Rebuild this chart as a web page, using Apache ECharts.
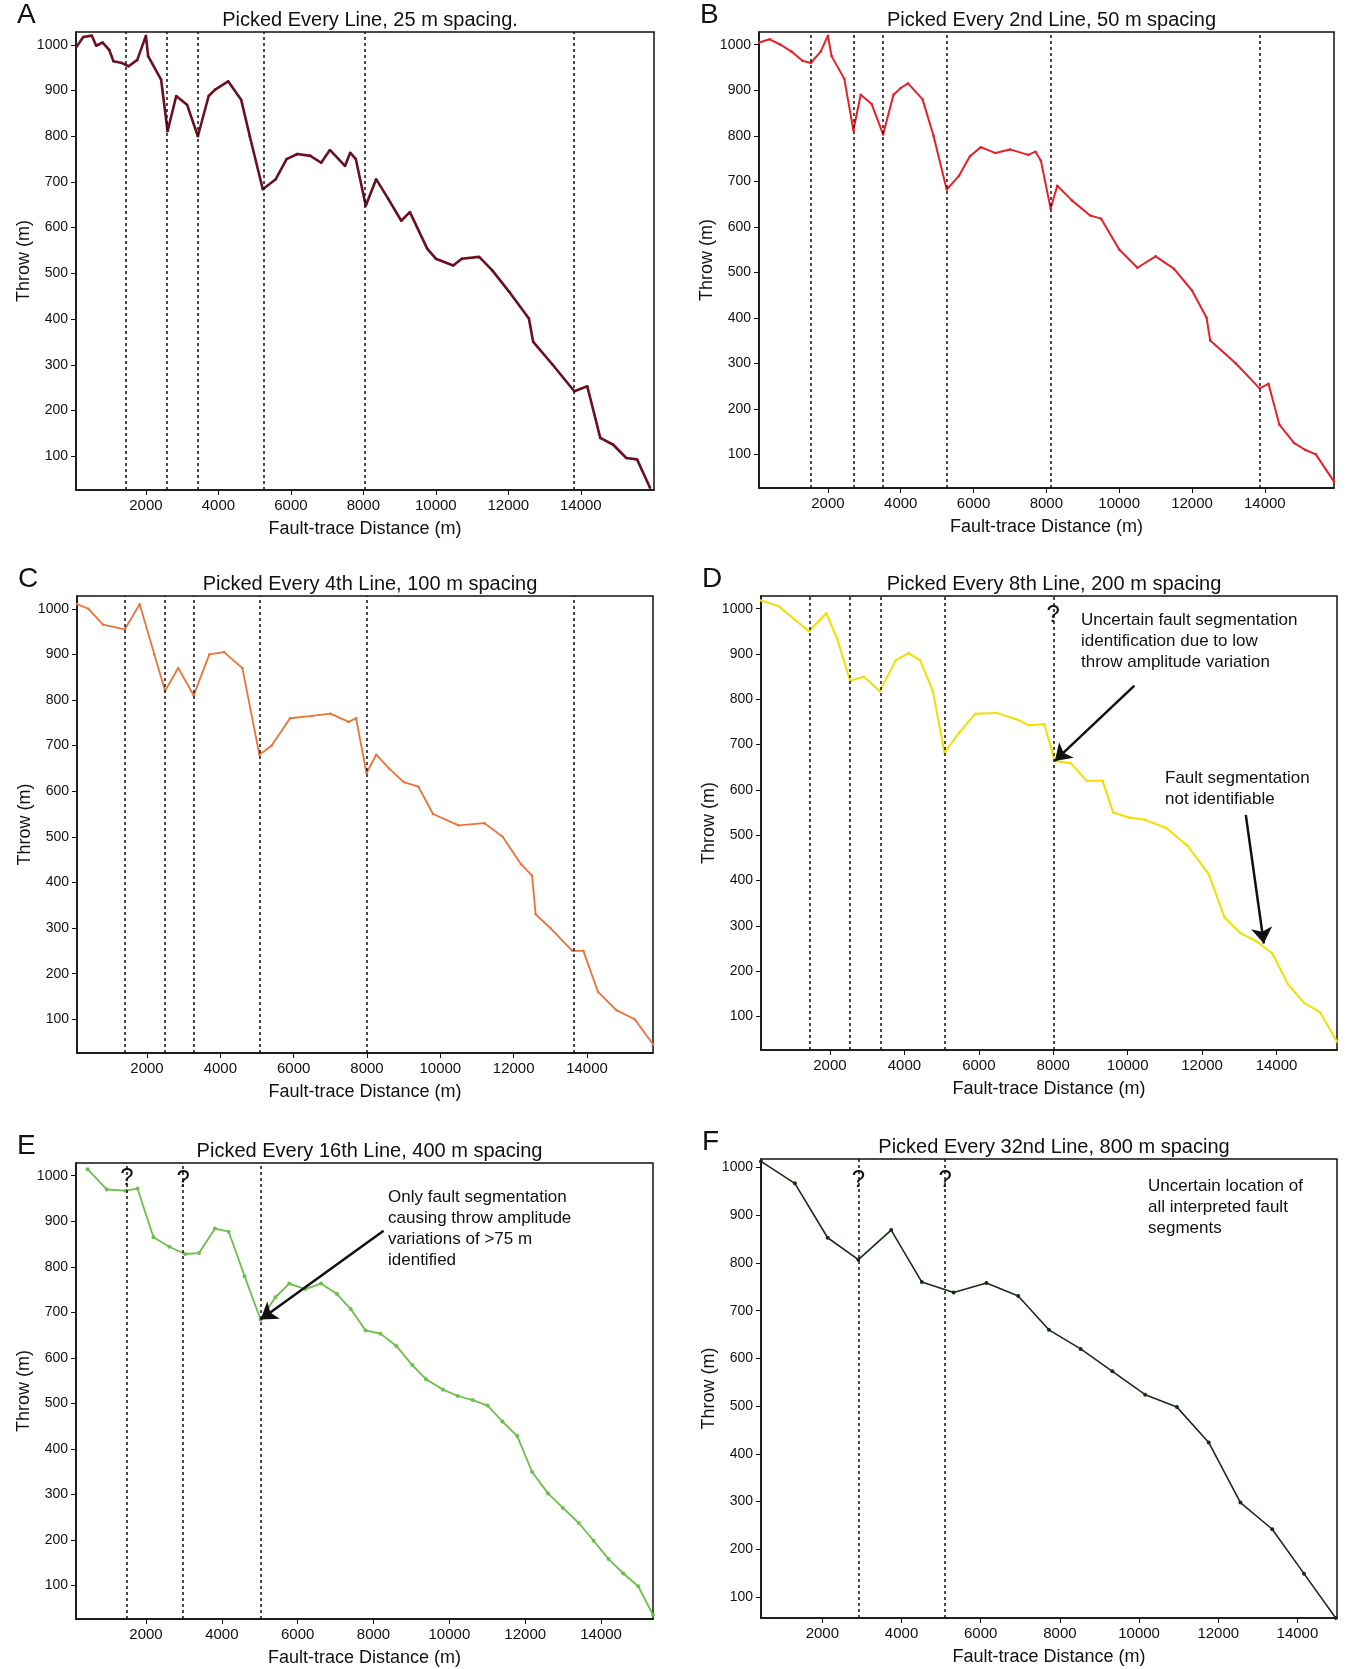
<!DOCTYPE html>
<html><head><meta charset="utf-8">
<script src="https://cdn.jsdelivr.net/npm/echarts@6/dist/echarts.min.js"></script>
<style>html,body{margin:0;background:#fff}#c{width:1351px;height:1669px}</style>
</head><body><div id="c"></div>
<script>
// throw profiles, [distance m, throw m]
const dataA = [[90,996],[270,1017],[508,1020],[627,998],[806,1005],[985,989],[1104,964],[1343,960],[1522,953],[1761,967],[2000,1020],[2060,975],[2418,924],[2597,811],[2836,888],[3134,869],[3433,800],[3731,888],[3910,902],[4269,920],[4627,880],[4866,800],[5224,684],[5582,706],[5881,750],[6179,761],[6537,757],[6836,742],[7075,770],[7493,735],[7636,764],[7791,750],[8066,648],[8352,706],[8687,663],[9045,615],[9284,634],[9761,554],[10000,532],[10478,517],[10716,532],[11194,536],[11552,507],[12030,459],[12567,401],[12687,350],[13224,300],[13821,242],[14179,253],[14537,140],[14896,125],[15254,96],[15552,93],[15910,31]];
const dataB = [[110,1005],[400,1012],[700,1000],[1000,985],[1300,965],[1534,960],[1800,985],[2000,1020],[2100,975],[2450,925],[2700,812],[2900,890],[3200,870],[3515,803],[3800,890],[4000,905],[4200,915],[4600,880],[4900,800],[5262,682],[5600,712],[5900,755],[6200,775],[6600,762],[7000,770],[7500,758],[7700,765],[7850,745],[8117,640],[8300,690],[8700,658],[9200,625],[9500,618],[10000,550],[10500,510],[11000,535],[11500,508],[12000,460],[12400,400],[12500,350],[13200,300],[13856,245],[14100,255],[14400,165],[14800,125],[15100,110],[15400,100],[15900,40]];
const dataC = [[90,1010],[400,1000],[800,965],[1393,955],[1800,1010],[2200,900],[2492,820],[2850,870],[3272,810],[3700,900],[4100,905],[4600,870],[5065,680],[5400,700],[5900,760],[6500,765],[7000,770],[7500,752],[7700,760],[7986,640],[8250,680],[8600,650],[9000,620],[9400,610],[9800,550],[10500,525],[11200,530],[11700,500],[12200,440],[12500,415],[12600,330],[13000,300],[13600,250],[13900,250],[14300,160],[14800,120],[15300,100],[15800,45]];
const dataD = [[147,1018],[632,1005],[1430,950],[1900,990],[2200,932],[2542,841],[2912,850],[3340,818],[3767,886],[4109,902],[4423,886],[4765,818],[5079,682],[5478,727],[5905,768],[6476,770],[7046,755],[7331,743],[7758,745],[8043,664],[8471,659],[8898,620],[9325,620],[9611,550],[10039,539],[10466,534],[11036,516],[11606,477],[12177,414],[12605,318],[13032,284],[13460,266],[13887,239],[14315,170],[14742,130],[15170,109],[15625,45]];
const dataE = [[462,1014],[965,970],[1469,967],[1776,972],[2196,865],[2615,844],[3035,828],[3399,830],[3818,884],[4182,877],[4601,779],[5021,684],[5413,733],[5776,763],[6196,751],[6615,763],[7035,740],[7399,707],[7790,660],[8182,653],[8601,626],[9021,584],[9385,553],[9832,530],[10224,516],[10615,507],[11007,495],[11399,460],[11790,428],[12182,349],[12601,302],[12993,270],[13413,237],[13804,198],[14196,158],[14587,126],[14979,98],[15370,35]];
const dataF = [[449,1013],[1305,967],[2134,853],[2909,807],[3738,869],[4513,760],[5316,738],[6144,758],[6947,731],[7722,660],[8524,620],[9326,573],[10155,524],[10957,498],[11759,424],[12561,298],[13364,242],[14166,149],[14968,56]];

// interpreted fault segment boundaries (m)
const segA = [1444, 2585, 3434, 5249, 8029, 13795];
const segB = [1534, 2700, 3515, 5262, 8117, 13856];
const segC = [1393, 2492, 3272, 5065, 7986, 13625];
const segD = [1458, 2542, 3368, 5079, 8015];
const segE = [1497, 2980, 5021];
const segF = [2909, 5101];

const titles = ['Picked Every Line, 25 m spacing.', 'Picked Every 2nd Line, 50 m spacing', 'Picked Every 4th Line, 100 m spacing', 'Picked Every 8th Line, 200 m spacing', 'Picked Every 16th Line, 400 m spacing', 'Picked Every 32nd Line, 800 m spacing'];
const letters = ['A', 'B', 'C', 'D', 'E', 'F'];
const xTicks = [2000, 4000, 6000, 8000, 10000, 12000, 14000];
const yTicks = [100, 200, 300, 400, 500, 600, 700, 800, 900, 1000];

const FONT = '"Liberation Sans", Arial, sans-serif';
const panels = [
  { data: dataA, seg: segA, color: '#6a1020', lw: 2.6, grid: [76, 32, 578, 458], x: [70, 16020], y: [26, 1028] },
  { data: dataB, seg: segB, color: '#e8202a', lw: 2, grid: [759, 32, 575, 456], x: [107, 15900], y: [26, 1028] },
  { data: dataC, seg: segC, color: '#e8743a', lw: 1.8, grid: [77, 596, 576, 457], x: [90, 15800], y: [26, 1028] },
  { data: dataD, seg: segD, color: '#f0e000', lw: 2, grid: [761, 596, 576, 454], x: [147, 15625], y: [26, 1028] },
  { data: dataE, seg: segE, color: '#6cc04a', lw: 1.8, grid: [76, 1163, 577, 456], x: [154, 15370], y: [26, 1028] },
  { data: dataF, seg: segF, color: '#1c2a1c', lw: 1.6, grid: [761, 1159, 576, 459], x: [450, 15000], y: [56, 1018] }
];

const qMarks = { 3: [[8000, 985]], 4: [[1497, 995], [2980, 990]], 5: [[2909, 973], [5101, 973]] };
const arrows = {
  3: [[[10181, 830], [8043, 664]], [[13174, 545], [13659, 261]]],
  4: [[[8266, 879], [5021, 684]]]
};

const grid = [], xAxis = [], yAxis = [], series = [], title = [];
panels.forEach((p, i) => {
  const [l, t, w, h] = p.grid;
  grid.push({ left: l, top: t, width: w, height: h, show: true, borderColor: '#111', borderWidth: 1.5 });
  xAxis.push({
    gridIndex: i, type: 'value', min: p.x[0], max: p.x[1],
    name: 'Fault-trace Distance (m)', nameLocation: 'middle', nameGap: 30,
    nameTextStyle: { fontSize: 18, fontFamily: FONT, color: '#111' },
    axisLine: { lineStyle: { color: '#111', width: 1.5 } },
    axisTick: { customValues: xTicks, lineStyle: { color: '#111' } },
    axisLabel: { customValues: xTicks, formatter: v => String(v), fontSize: 15, fontFamily: FONT, color: '#111' },
    splitLine: { show: false }
  });
  yAxis.push({
    gridIndex: i, type: 'value', min: p.y[0], max: p.y[1],
    name: 'Throw (m)', nameLocation: 'middle', nameGap: 40,
    nameTextStyle: { fontSize: 18, fontFamily: FONT, color: '#111' },
    axisLine: { lineStyle: { color: '#111', width: 1.5 } },
    axisTick: { customValues: yTicks, lineStyle: { color: '#111' } },
    axisLabel: { customValues: yTicks, formatter: v => String(v), fontSize: 14, fontFamily: FONT, color: '#111' },
    splitLine: { show: false }
  });
  title.push({ text: titles[i], left: l + w / 2, top: t - 27, textAlign: 'center',
    textStyle: { fontSize: 20, fontWeight: 'normal', fontFamily: FONT, color: '#111' } });
  title.push({ text: letters[i], left: l - 64, top: t - 36,
    textStyle: { fontSize: 28, fontWeight: 'normal', fontFamily: FONT, color: '#111' } });
  series.push({
    type: 'line', xAxisIndex: i, yAxisIndex: i, data: p.data,
    showSymbol: true, symbol: 'circle', symbolSize: i >= 4 ? 4 : 2.5,
    itemStyle: { color: p.color }, lineStyle: { color: p.color, width: p.lw },
    animation: false, z: 3,
    markLine: {
      silent: true, symbol: 'none', animation: false,
      lineStyle: { color: '#111', type: [3, 3], width: 1.5 }, label: { show: false },
      data: p.seg.map(v => ({ xAxis: v }))
    },
    markPoint: qMarks[i] ? {
      symbol: 'circle', symbolSize: 0, animation: false,
      label: { show: true, formatter: '?', fontSize: 24, fontFamily: FONT, color: '#111', position: 'inside' },
      data: qMarks[i].map(c => ({ coord: c }))
    } : undefined
  });
  if (arrows[i]) {
    series.push({
      type: 'line', xAxisIndex: i, yAxisIndex: i, data: [], animation: false,
      markLine: {
        silent: true, symbol: ['none', 'arrow'], symbolSize: 16, animation: false,
        lineStyle: { color: '#111', type: 'solid', width: 2.5 }, label: { show: false },
        data: arrows[i].map(a => [{ coord: a[0] }, { coord: a[1] }])
      }
    });
  }
});

const note = (left, top, text) => ({
  type: 'text', left: left, top: top,
  style: { text: text, fontSize: 17, lineHeight: 21, fontFamily: FONT, fill: '#111' }
});

const chart = echarts.init(document.getElementById('c'));
chart.setOption({
  backgroundColor: '#fff',
  title, grid, xAxis, yAxis, series,
  graphic: [
    note(1081, 610, 'Uncertain fault segmentation\nidentification due to low\nthrow amplitude variation'),
    note(1165, 768, 'Fault segmentation\nnot identifiable'),
    note(388, 1187, 'Only fault segmentation\ncausing throw amplitude\nvariations of >75 m\nidentified'),
    note(1148, 1176, 'Uncertain location of\nall interpreted fault\nsegments')
  ]
});
</script>
</body></html>
